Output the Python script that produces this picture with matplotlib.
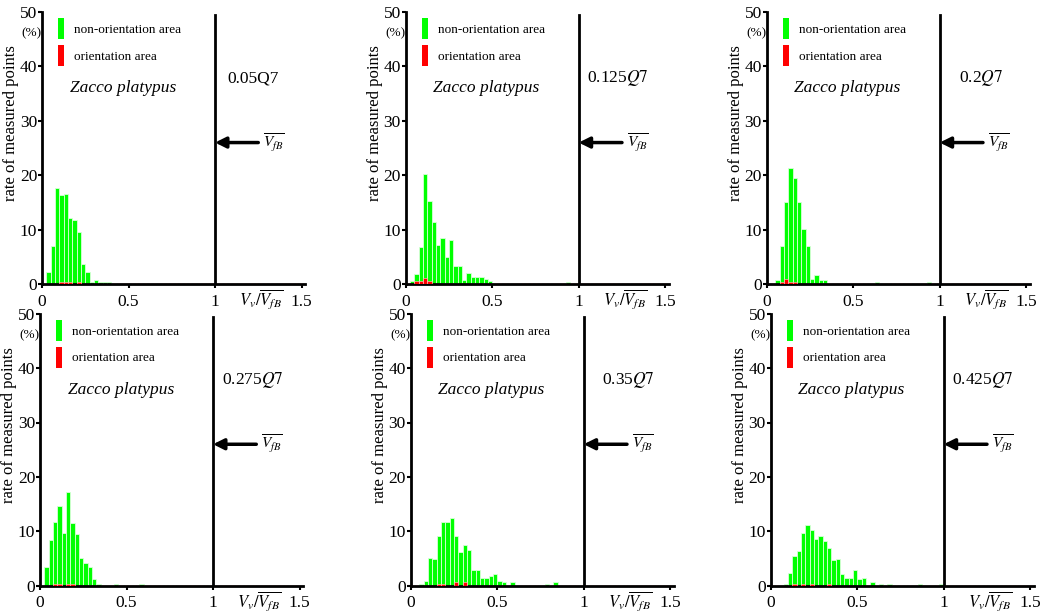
import numpy as np
import matplotlib
matplotlib.use('Agg')
import matplotlib.pyplot as plt
from matplotlib.patches import Patch

plt.rcParams['font.family'] = ['Liberation Serif', 'DejaVu Serif']
plt.rcParams['mathtext.fontset'] = 'stix'

# %% data: rate of measured points (%) in bins of width 0.025 of Vv/VfB, starting at 0
conditions = ['0.05Q7', r'0.125$\mathit{Q7}$', r'0.2$\mathit{Q7}$',
              r'0.275$\mathit{Q7}$', r'0.35$\mathit{Q7}$', r'0.425$\mathit{Q7}$']

green_005 = [0, 2.2, 6.9, 17.6, 16.3, 16.5, 12.2, 11.7, 9.5, 3.6, 2.2, 0.3, 0.8, 0.3, 0.3, 0.3]
red_005 = [0, 0, 0, 0, 0.3, 0.4, 0.3, 0, 0.3]

green_0125 = [0, 0.6, 1.9, 6.8, 20.2, 15.3, 11.4, 7.2, 8.4, 5.0, 8.0, 3.3, 3.3, 0.7, 2.1, 1.3,
              1.3, 1.2, 1.0, 0.6, 0, 0, 0, 0, 0, 0, 0, 0, 0, 0, 0, 0, 0, 0, 0, 0, 0, 0.4]
red_0125 = [0, 0, 0.5, 0.5, 1.1, 0.5]

green_02 = [0, 0, 0.8, 6.9, 15.0, 21.4, 19.4, 15.0, 10.2, 6.9, 1.0, 1.7, 0.8, 0.8, 0, 0,
            0, 0, 0, 0, 0, 0, 0, 0, 0, 0.3, 0, 0, 0, 0, 0, 0, 0, 0, 0, 0, 0, 0.3]
red_02 = [0, 0, 0, 0.3, 1.0, 0.3, 0.4]

green_0275 = [0, 3.4, 8.4, 11.8, 14.6, 9.7, 17.2, 11.6, 9.5, 5.1, 4.2, 3.4, 1.3, 0.3, 0, 0,
              0, 0.3, 0, 0, 0, 0, 0, 0.3]
red_0275 = [0, 0, 0, 0.3, 0.3, 0, 0.3, 0.3]

green_035 = [0, 0, 0.4, 0.8, 5.1, 4.9, 9.1, 11.8, 11.8, 12.4, 9.1, 6.2, 7.5, 6.5, 2.9, 2.9,
             1.4, 1.4, 1.8, 2.2, 0.9, 0.7, 0, 0.7, 0, 0, 0, 0, 0, 0, 0, 0.3, 0, 0.7]
red_035 = [0, 0, 0, 0, 0, 0, 0.3, 0.3, 0, 0, 0.6, 0, 0.6]

green_0425 = [0, 0, 0, 0.3, 2.4, 5.5, 6.4, 9.7, 11.1, 10.2, 8.6, 9.2, 8.3, 6.9, 4.8, 5.0,
              2.2, 1.4, 1.4, 2.8, 1.3, 1.5, 0, 0.7, 0, 0.3, 0, 0.3, 0, 0, 0, 0, 0, 0, 0.3,
              0, 0, 0, 0, 0.3]
red_0425 = [0, 0, 0, 0, 0, 0.3, 0, 0.3, 0, 0.3, 0, 0, 0, 0.3]

green_sets = [green_005, green_0125, green_02, green_0275, green_035, green_0425]
red_sets = [red_005, red_0125, red_02, red_0275, red_035, red_0425]

# %% layout (pixels)
W, H = 1043, 616
BW = 0.025
NB = 60
lefts = [42, 405.7, 766.7, 40, 410.7, 770.7]
bottoms = [284, 284, 284, 585.7, 585.7, 585.7]
cond_x = [1.07, 1.05, 1.11, 1.05, 1.105, 1.05]
axw, axh = 263, 272

GREEN = '#00ff00'
RED = '#ff0000'


def pad(v):
    v = np.array(v, dtype=float)
    return np.pad(v, (0, NB - v.size))


fig = plt.figure(figsize=(W / 100, H / 100), dpi=100)
centers = (np.arange(NB) + 0.5) * BW

for i in range(6):
    ax = fig.add_axes([lefts[i] / W, 1 - bottoms[i] / H, axw / W, axh / H])
    g = pad(green_sets[i])
    r = pad(red_sets[i])
    ax.bar(centers, g, width=BW, color=GREEN, edgecolor='#d8ffd8', linewidth=0.6, zorder=2)
    ax.bar(centers, r, width=BW, color=RED, edgecolor='#ffd8d8', linewidth=0.4, zorder=3)
    ax.plot([0, 1.52], [0, 0], color='#a00000', lw=0.8, ls=(0, (2, 2)), zorder=4)

    ax.set_xlim(0, 1.52)
    ax.set_ylim(0, 50)
    for s in ['top', 'right']:
        ax.spines[s].set_visible(False)
    for s in ['left', 'bottom']:
        ax.spines[s].set_linewidth(2)
    ax.set_xticks([0, 0.5, 1, 1.5])
    ax.set_xticklabels(['0', '0.5', '1', '1.5'])
    ax.set_yticks([0, 10, 20, 30, 40, 50])
    ax.tick_params(axis='both', direction='out', length=3, width=1.5, labelsize=12.5)
    ax.tick_params(axis='y', pad=0.5)
    ax.tick_params(axis='x', pad=4)

    # VfB line and arrow
    ax.plot([1, 1], [0, 49.4], color='k', lw=2, zorder=5)
    ax.annotate('', xy=(1.0, 26), xytext=(1.25, 26),
                arrowprops=dict(arrowstyle='-|>', lw=2.5, color='k', mutation_scale=16,
                                shrinkA=0, shrinkB=0))
    ax.text(1.28, 26, r'$\overline{V_{fB}}$', fontsize=11, va='center', ha='left')
    ax.text(1.14, -0.6, r'$V_v/\overline{V_{fB}}$', fontsize=12, va='top', ha='left')

    ax.text(cond_x[i], 37.8, conditions[i], fontsize=12.5, va='center', ha='left')
    ax.text(0.16, 36, 'Zacco platypus', fontsize=12.5, style='italic', va='center', ha='left')

    ax.text(-0.04, 0.92, '(%)', fontsize=9.5, transform=ax.transAxes, ha='center', va='center')
    ax.text(-0.118, 0.59, 'rate of measured points', fontsize=12, rotation=90,
            transform=ax.transAxes, ha='center', va='center')

    handles = [Patch(facecolor=GREEN, edgecolor='none'), Patch(facecolor=RED, edgecolor='none')]
    ax.legend(handles, ['non-orientation area', 'orientation area'], loc='upper left',
              bbox_to_anchor=(0.015, 1.02), frameon=False, fontsize=9.5,
              handlelength=0.5, handleheight=2.0, handletextpad=0.75, labelspacing=0.5)

fig.savefig('out.png', dpi=100)
